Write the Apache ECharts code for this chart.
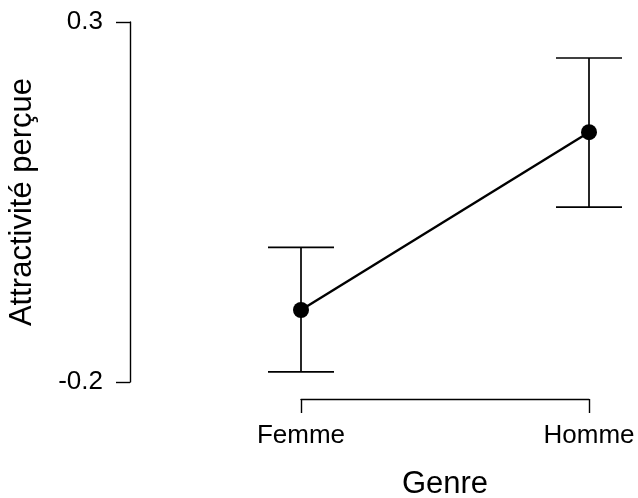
<!DOCTYPE html>
<html>
<head>
<meta charset="utf-8">
<script src="https://cdn.jsdelivr.net/npm/echarts@6/dist/echarts.min.js"></script>
<style>
html,body{margin:0;padding:0;background:#fff;}
#chart{width:638px;height:498px;}
</style>
</head>
<body>
<div id="chart"></div>
<script>
var categories = ['Femme', 'Homme'];
var means = [-0.1, 0.147];
var lower = [-0.186, 0.043];
var upper = [-0.013, 0.25];
var yTicks = [-0.2, 0.3];

var FONT = '"Liberation Sans", Arial, sans-serif';
var chart = echarts.init(document.getElementById('chart'));

var errData = categories.map(function (c, i) { return [i, lower[i], upper[i]]; });

chart.setOption({
  backgroundColor: '#ffffff',
  animation: false,
  grid: { left: 301, right: 49, top: 22, bottom: 116, containLabel: false, outerBoundsMode: 'none' },
  xAxis: {
    type: 'category',
    data: categories,
    boundaryGap: false,
    offset: 17,
    axisLine: { show: true, onZero: false, lineStyle: { color: '#000', width: 1.4 } },
    axisTick: { show: true, length: 14, lineStyle: { color: '#000', width: 1.4 } },
    axisLabel: { color: '#000', fontSize: 26, fontFamily: FONT, margin: 24 },
    splitLine: { show: false },
    name: 'Genre',
    nameLocation: 'middle',
    nameGap: 70,
    nameTextStyle: { color: '#000', fontSize: 31, fontFamily: FONT }
  },
  yAxis: {
    type: 'value',
    min: -0.2,
    max: 0.3,
    offset: 171,
    axisLine: { show: true, onZero: false, lineStyle: { color: '#000', width: 1.4 } },
    axisTick: { show: true, length: 14, customValues: yTicks, lineStyle: { color: '#000', width: 1.4 } },
    axisLabel: { color: '#000', fontSize: 26, fontFamily: FONT, margin: 27, customValues: yTicks,
      formatter: function (v) { return (Math.round(v * 10) / 10).toFixed(1); } },
    splitLine: { show: false },
    name: 'Attractivité perçue',
    nameLocation: 'middle',
    nameGap: 92,
    nameTextStyle: { color: '#000', fontSize: 31, fontFamily: FONT }
  },
  series: [
    {
      type: 'custom',
      data: errData,
      z: 1,
      renderItem: function (params, api) {
        var x = api.value(0);
        var lo = api.coord([x, api.value(1)]);
        var hi = api.coord([x, api.value(2)]);
        var hw = 33;
        var style = { stroke: '#000', lineWidth: 1.7 };
        return {
          type: 'group',
          children: [
            { type: 'line', shape: { x1: lo[0], y1: lo[1], x2: hi[0], y2: hi[1] }, style: style },
            { type: 'line', shape: { x1: lo[0] - hw, y1: lo[1], x2: lo[0] + hw, y2: lo[1] }, style: style },
            { type: 'line', shape: { x1: hi[0] - hw, y1: hi[1], x2: hi[0] + hw, y2: hi[1] }, style: style }
          ]
        };
      }
    },
    {
      type: 'line',
      data: means,
      z: 3,
      symbol: 'circle',
      symbolSize: 16,
      lineStyle: { color: '#000', width: 2.4 },
      itemStyle: { color: '#000', borderWidth: 0 }
    }
  ]
});
</script>
</body>
</html>
